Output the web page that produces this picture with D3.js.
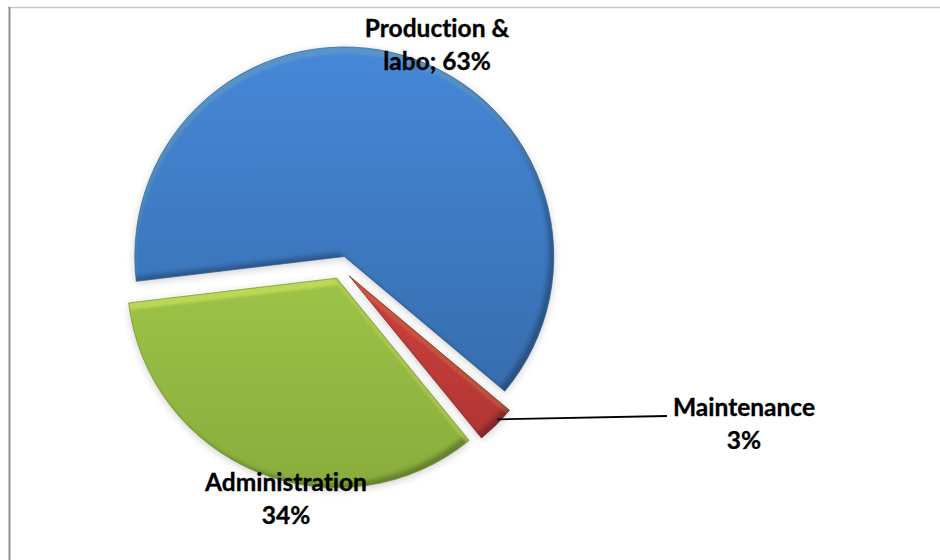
<!DOCTYPE html>
<html>
<head>
<meta charset="utf-8">
<script src="https://cdn.jsdelivr.net/npm/d3@7/dist/d3.min.js"></script>
<style>
  html, body { margin: 0; padding: 0; background: #fff; }
  text { font-family: Lato, "Open Sans", sans-serif; font-weight: 700; font-size: 24.5px; font-variant-ligatures: none; fill: #000; stroke: #000; stroke-width: 0.35px; }
</style>
</head>
<body>
<svg id="chart" width="940" height="560"></svg>
<script>
// Staff distribution by department
const categories = ["Production & labo", "Maintenance", "Administration"];
const shares = [63, 3, 34];
const labelLines = [["Production &", "labo; 63%"], ["Maintenance", "3%"], ["Administration", "34%"]];

// Colours per slice: top of the fill, bottom of the fill, edge line
const fillTop = ["#4688d8", "#d0403c", "#9dc347"];
const fillBottom = ["#376dae", "#b03634", "#88ad3c"];
const edgeColor = ["#2f6098", "#8a2a28", "#71902f"];
// Strength of the lit upper band per slice
const lightBand = [0.1, 0.14, 0.36];

const width = 940, height = 560;
const cx = 341, cy = 267.5, radius = 209.5, explode = 11.5;
const deg = Math.PI / 180;
const firstAngle = 263.2 * deg;

const labelPos = [[437, 37], [744, 416], [286, 491]];
const lineGap = 32.5;
const leaderEnd = [667, 416];

const svg = d3.select("#chart");
const defs = svg.append("defs");

const blur = (id, sd) => defs.append("filter").attr("id", id)
  .attr("x", "-20%").attr("y", "-20%").attr("width", "140%").attr("height", "140%")
  .append("feGaussianBlur").attr("stdDeviation", sd);
blur("shadowBlur", 4.5);
blur("darkEdge", 2);
blur("lightEdge", 1);

// Chart frame: only the top and left sides are visible
svg.append("line").attr("x1", 8).attr("x2", width).attr("y1", 7.5).attr("y2", 7.5)
  .attr("stroke", "#c6c6c6").attr("stroke-width", 1.5);
svg.append("line").attr("x1", 9.5).attr("x2", 9.5).attr("y1", 7).attr("y2", height)
  .attr("stroke", "#8f8f8f").attr("stroke-width", 2);

const pie = d3.pie().sort(null).value(d => d)
  .startAngle(firstAngle).endAngle(firstAngle + 2 * Math.PI);
const arc = d3.arc().innerRadius(0).outerRadius(radius);
const arcs = pie(shares);

const offset = d => d3.pointRadial((d.startAngle + d.endAngle) / 2, explode);

const root = svg.append("g").attr("transform", `translate(${cx},${cy})`);

// Per-slice gradient and the two masks that leave a band along its lit and shaded edges
const bandMask = (id, d, dx, dy, filterId) => {
  const m = defs.append("mask").attr("id", id).attr("maskUnits", "userSpaceOnUse")
    .attr("x", -width).attr("y", -height).attr("width", 2 * width).attr("height", 2 * height);
  m.append("rect").attr("x", -width).attr("y", -height)
    .attr("width", 2 * width).attr("height", 2 * height).attr("fill", "#fff");
  m.append("path").attr("d", arc(d)).attr("fill", "#000")
    .attr("transform", `translate(${dx},${dy})`).attr("filter", `url(#${filterId})`);
};
arcs.forEach((d, i) => {
  const g = defs.append("linearGradient").attr("id", `fill${i}`)
    .attr("x1", 0).attr("x2", 0).attr("y1", 0).attr("y2", 1);
  g.append("stop").attr("offset", 0).attr("stop-color", fillTop[i]);
  g.append("stop").attr("offset", 1).attr("stop-color", fillBottom[i]);
  bandMask(`lit${i}`, d, 1, 7, "lightEdge");
  bandMask(`shade${i}`, d, -5, -4, "darkEdge");
});

const slices = root.selectAll("g.slice").data(arcs).join("g")
  .attr("class", "slice")
  .attr("transform", d => `translate(${offset(d)})`);

// Soft drop shadow beneath each slice
slices.append("path").attr("d", arc)
  .attr("transform", "translate(0,2)")
  .attr("fill", "#000").attr("opacity", 0.2)
  .attr("filter", "url(#shadowBlur)");

slices.append("path").attr("d", arc)
  .attr("fill", (d, i) => `url(#fill${i})`);

// Bevel bands
slices.append("path").attr("d", arc)
  .attr("fill", "#000").attr("opacity", 0.26)
  .attr("mask", (d, i) => `url(#shade${i})`);
slices.append("path").attr("d", arc)
  .attr("fill", "#f4ff70").attr("opacity", (d, i) => lightBand[i])
  .attr("mask", (d, i) => `url(#lit${i})`);

slices.append("path").attr("d", arc)
  .attr("fill", "none").attr("stroke", (d, i) => edgeColor[i]).attr("stroke-width", 0.7);

// Leader from the small slice to its label
const thin = arcs[1];
const thinOff = offset(thin);
const thinEdge = d3.pointRadial(thin.startAngle + (thin.endAngle - thin.startAngle) * 0.38, radius - 3);
svg.append("line")
  .attr("x1", cx + thinOff[0] + thinEdge[0]).attr("y1", cy + thinOff[1] + thinEdge[1])
  .attr("x2", leaderEnd[0]).attr("y2", leaderEnd[1])
  .attr("stroke", "#000").attr("stroke-width", 1.8);

// Data labels, two centred lines each
const labels = svg.selectAll("text.label").data(labelLines).join("text")
  .attr("class", "label").attr("text-anchor", "middle");
labels.selectAll("tspan").data((d, i) => d.map((t, j) => ({ t, j, i }))).join("tspan")
  .attr("x", d => labelPos[d.i][0])
  .attr("y", d => labelPos[d.i][1] + d.j * lineGap)
  .text(d => d.t);
</script>
</body>
</html>
